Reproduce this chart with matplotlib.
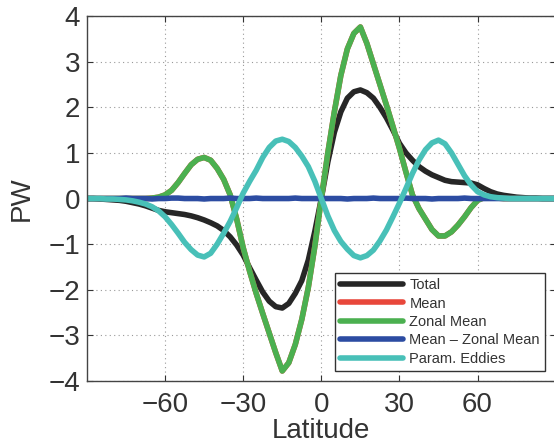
import numpy as np
import matplotlib
matplotlib.use("Agg")
import matplotlib.pyplot as plt

# latitudes (deg), 2.5 degree spacing
lat = np.arange(-90, 90.1, 2.5)

# heat transport components (PW)
total = [0.0, 0.0, -0.01, -0.02, -0.03, -0.04, -0.06, -0.09, -0.12, -0.16,
         -0.21, -0.26, -0.29, -0.31, -0.33, -0.35, -0.38, -0.42, -0.47, -0.53,
         -0.60, -0.70, -0.84, -1.02, -1.24, -1.52, -1.79, -2.05, -2.25, -2.37,
         -2.40, -2.30, -2.08, -1.80, -1.35, -0.72, 0.0,
         0.80, 1.45, 1.90, 2.20, 2.34, 2.38, 2.32, 2.20, 2.00, 1.77,
         1.50, 1.21, 1.00, 0.84, 0.70, 0.60, 0.52, 0.46, 0.40, 0.37,
         0.36, 0.35, 0.34, 0.30, 0.22, 0.15, 0.10, 0.07, 0.05, 0.03,
         0.02, 0.01, 0.01, 0.0, 0.0, 0.0]
mean = [0.0, 0.0, 0.0, 0.0, 0.0, 0.0, 0.0, 0.0, 0.0, 0.0,
        0.01, 0.03, 0.08, 0.18, 0.35, 0.55, 0.74, 0.86, 0.90, 0.84,
        0.66, 0.42, 0.08, -0.45, -1.08, -1.60, -2.08, -2.52, -2.95, -3.38,
        -3.78, -3.60, -3.20, -2.65, -1.95, -1.05, 0.0,
        1.00, 1.90, 2.70, 3.28, 3.62, 3.76, 3.40, 2.95, 2.50, 2.05,
        1.58, 1.10, 0.58, 0.08, -0.22, -0.45, -0.68, -0.82, -0.82, -0.73,
        -0.58, -0.40, -0.20, -0.04, 0.02, 0.02, 0.01, 0.0, 0.0, 0.0,
        0.0, 0.0, 0.0, 0.0, 0.0, 0.0]
zonal_mean = [0.0, 0.0, 0.0, 0.0, 0.0, 0.0, 0.0, 0.0, 0.0, 0.0,
              0.01, 0.03, 0.08, 0.18, 0.35, 0.55, 0.74, 0.86, 0.90, 0.84,
              0.66, 0.42, 0.08, -0.45, -1.08, -1.60, -2.08, -2.52, -2.95, -3.38,
              -3.78, -3.60, -3.20, -2.65, -1.95, -1.05, 0.0,
              1.00, 1.90, 2.70, 3.28, 3.62, 3.76, 3.40, 2.95, 2.50, 2.05,
              1.58, 1.10, 0.58, 0.08, -0.22, -0.45, -0.68, -0.82, -0.82, -0.73,
              -0.58, -0.40, -0.20, -0.04, 0.02, 0.02, 0.01, 0.0, 0.0, 0.0,
              0.0, 0.0, 0.0, 0.0, 0.0, 0.0]
mean_minus_zonal = [0.0, 0.0, 0.0, 0.0, 0.0, 0.0, 0.01, 0.0, 0.0, 0.0,
                    -0.01, 0.0, 0.0, 0.01, 0.01, 0.0, 0.0, 0.0, -0.01, 0.0,
                    0.0, 0.0, 0.01, 0.0, 0.0, 0.0, 0.01, 0.0, 0.0, 0.0,
                    0.0, 0.0, 0.01, 0.0, 0.0, 0.0, 0.0,
                    0.0, 0.0, 0.0, -0.01, 0.0, 0.0, 0.0, 0.01, 0.0, 0.0,
                    0.0, 0.0, 0.01, 0.0, 0.0, 0.0, -0.01, 0.0, 0.0, 0.0,
                    0.0, 0.01, 0.0, 0.0, 0.0, 0.0, 0.0, 0.0, 0.0, 0.0,
                    0.0, 0.0, 0.0, 0.0, 0.0, 0.0]
eddies = [0.0, 0.0, 0.0, -0.01, -0.01, -0.02, -0.03, -0.05, -0.08, -0.12,
          -0.18, -0.27, -0.40, -0.57, -0.76, -0.96, -1.12, -1.24, -1.28, -1.20,
          -1.00, -0.76, -0.50, -0.20, 0.12, 0.38, 0.62, 0.90, 1.12, 1.26,
          1.30, 1.25, 1.12, 0.93, 0.70, 0.38, 0.0,
          -0.38, -0.70, -0.94, -1.11, -1.25, -1.30, -1.25, -1.13, -0.93, -0.69,
          -0.40, -0.10, 0.22, 0.55, 0.84, 1.07, 1.22, 1.28, 1.20, 1.00,
          0.75, 0.50, 0.30, 0.15, 0.08, 0.04, 0.02, 0.01, 0.0, 0.0,
          0.0, 0.0, 0.0, 0.0, 0.0, 0.0]

labels = ["Total", "Mean", "Zonal Mean", "Mean \u2013 Zonal Mean", "Param. Eddies"]
colors = ["#262626", "#e8473b", "#4bb050", "#2c4ca2", "#48c0b8"]

plt.rcParams['font.family'] = ['Liberation Sans', 'DejaVu Sans']

fig = plt.figure(figsize=(5.54, 4.46), dpi=100)
ax = fig.add_axes([0.157, 0.1457, 0.846, 0.8183])

for y, lab, c in zip([total, mean, zonal_mean, mean_minus_zonal, eddies], labels, colors):
    ax.plot(lat, y, color=c, lw=4, label=lab, solid_capstyle='round',
            solid_joinstyle='round')

ax.set_xlim(-90, 90)
ax.set_ylim(-4, 4)
ax.set_xticks([-60, -30, 0, 30, 60])
ax.set_yticks(np.arange(-4, 5, 1))
ax.grid(True, color='#999999', linestyle=(0, (1, 3)), lw=0.8)
ax.tick_params(direction='in', top=True, right=True, labelsize=20,
               colors='#333333', length=4)
ax.tick_params(axis='x', pad=8)
ax.tick_params(axis='y', pad=5)
for s in ax.spines.values():
    s.set_color('#444444')
    s.set_linewidth(1.0)

ax.set_xlabel("Latitude", fontsize=20, color='#333333', labelpad=0)
ax.set_ylabel("PW", fontsize=20, color='#333333', labelpad=10)

leg = ax.legend(loc='lower right', fontsize=10.5, handlelength=4.3,
                handletextpad=0.45, labelspacing=0.3, borderpad=0.35,
                fancybox=False, framealpha=1, edgecolor='#333333',
                bbox_to_anchor=(0.993, 0.008))
leg.get_frame().set_linewidth(1.0)
for t in leg.get_texts():
    t.set_color('#333333')

fig.savefig("out.png", dpi=100)
